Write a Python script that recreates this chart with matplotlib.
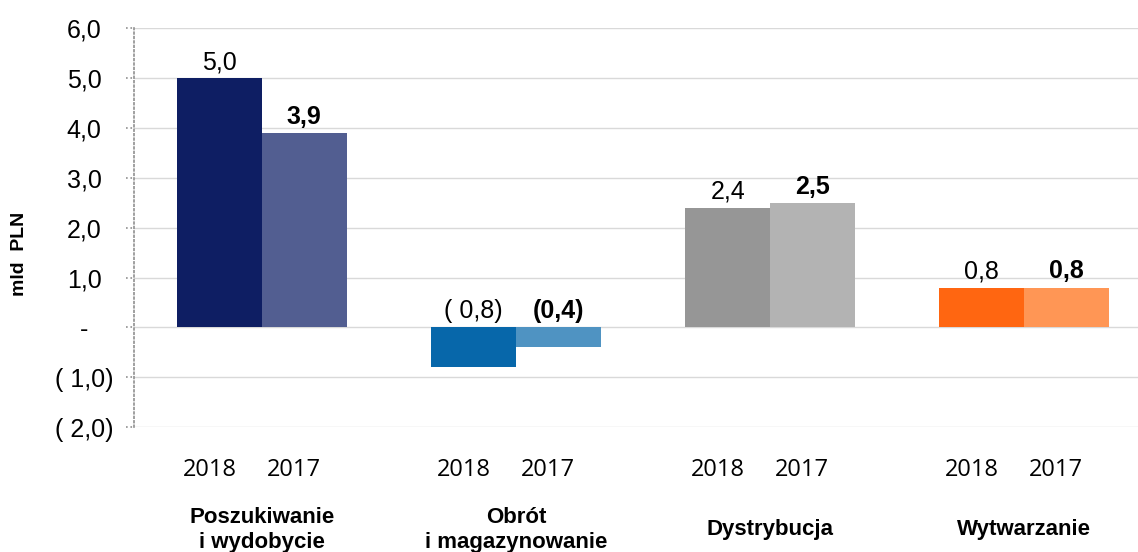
import numpy as np
import matplotlib
matplotlib.use('Agg')
import matplotlib.pyplot as plt
import matplotlib.transforms as mtransforms

# dane
categories = ['Poszukiwanie\ni wydobycie', 'Obrót\ni magazynowanie', 'Dystrybucja', 'Wytwarzanie']
years = ['2018', '2017']
vals_2018 = [5.0, -0.8, 2.4, 0.8]
vals_2017 = [3.9, -0.4, 2.5, 0.8]
yticks = [6, 5, 4, 3, 2, 1, 0, -1, -2]
ytick_labels = ['6,0', '5,0', '4,0', '3,0', '2,0', '1,0', '-', '( 1,0)', '( 2,0)']

colors_2018 = ['#0e1e63', '#0767aa', '#969696', '#ff6611']
colors_2017 = ['#525e91', '#4f93c2', '#b3b3b3', '#ff9655']

plt.rcParams['font.family'] = ['Liberation Sans', 'DejaVu Sans']


def fmt(v):
    return ('%.1f' % abs(v)).replace('.', ',')


fig = plt.figure(figsize=(11.38, 5.52), dpi=100)
ax = fig.add_axes([0.1178, 0.2264, 0.8822, 0.722])

x = np.arange(len(categories))
w = 0.333
ax.bar(x - w / 2, vals_2018, w, color=colors_2018, zorder=3)
ax.bar(x + w / 2, vals_2017, w, color=colors_2017, zorder=3)

ax.set_xlim(-0.504, 3.449)
ax.set_ylim(-2, 6)
ax.set_yticks(yticks)
ax.set_yticklabels(ytick_labels, fontsize=18, ha='center')
ax.tick_params(axis='y', length=0, pad=36)
ax.grid(axis='y', color='#d9d9d9', linewidth=1, zorder=0)

for s in ['top', 'right', 'bottom']:
    ax.spines[s].set_visible(False)
ax.spines['left'].set_linestyle(':')
ax.spines['left'].set_color('#909090')
ax.spines['left'].set_linewidth(1.2)

# kreskowane znaczniki osi
trans = mtransforms.blended_transform_factory(ax.transAxes, ax.transData)
for t in yticks:
    ax.plot([-0.008, 0], [t, t], transform=trans, color='#909090', linestyle=':',
            linewidth=1.2, clip_on=False)

# etykiety lat
xt = np.concatenate([x - w / 2 - 0.04, x + w / 2 - 0.04])
ax.set_xticks(xt)
ax.set_xticklabels(years[:1] * len(x) + years[1:] * len(x), fontsize=17,
                   family=['Open Sans', 'DejaVu Sans'])
ax.tick_params(axis='x', length=0, pad=22)

# wartosci nad slupkami
for i in range(len(x)):
    v = vals_2018[i]
    lab = fmt(v) if v >= 0 else '( %s)' % fmt(v)
    ax.annotate(lab, (x[i] - w / 2, max(v, 0)), xytext=(0, 3), textcoords='offset points',
                ha='center', va='bottom', fontsize=18)
    v = vals_2017[i]
    lab = fmt(v) if v >= 0 else '(%s)' % fmt(v)
    ax.annotate(lab, (x[i] + w / 2, max(v, 0)), xytext=(0, 3), textcoords='offset points',
                ha='center', va='bottom', fontsize=18, fontweight='bold')

# nazwy segmentow
ctrans = mtransforms.blended_transform_factory(ax.transData, fig.transFigure)
for i, c in enumerate(categories):
    ax.text(x[i], 0.04, c, transform=ctrans, ha='center', va='center',
            fontsize=16, fontweight='bold', linespacing=1.25)

fig.text(20 / 1138, 0.54, 'mld  PLN', rotation=90, ha='center', va='center',
         fontsize=14, fontweight='bold')

plt.savefig('out.png', dpi=100)
